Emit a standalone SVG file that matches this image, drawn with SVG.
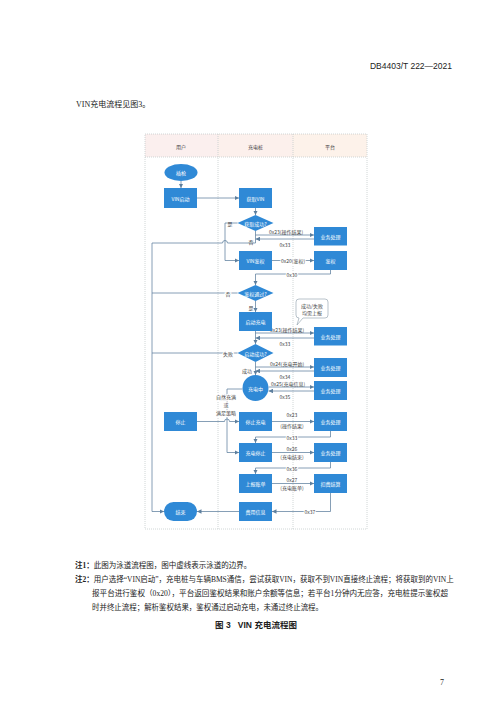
<svg xmlns="http://www.w3.org/2000/svg" width="500" height="707" viewBox="0 0 500 707">
<style>
.pg{font-family:"Liberation Serif","Noto Sans CJK SC",serif;fill:#222}
.hd{font-family:"Liberation Sans","Noto Sans CJK SC",sans-serif;fill:#222}
.n{fill:#2f89d6}
.t{font-family:"Noto Sans CJK SC","Liberation Sans",sans-serif;font-size:5px;fill:#fff;text-anchor:middle;dominant-baseline:central}
.l{font-family:"Noto Sans CJK SC","Liberation Sans",sans-serif;font-size:5px;fill:#444;text-anchor:middle;dominant-baseline:central}
.c{fill:none;stroke:#5d7f9e;stroke-width:0.75}
.fr{fill:none;stroke:#c4cbcc;stroke-width:0.8;stroke-dasharray:1,1}
</style>
<defs>
<marker id="a" viewBox="0 0 6 6" refX="6" refY="3" markerWidth="4.5" markerHeight="4.5" orient="auto" markerUnits="userSpaceOnUse">
<path d="M0,0 L6,3 L0,6 z" fill="#5d7f9e"/>
</marker>
</defs>
<rect width="500" height="707" fill="#fff"/>
<text class="hd" x="452" y="69" font-size="8.5" text-anchor="end">DB4403/T 222—2021</text>
<text class="pg" x="76" y="107" font-size="8">VIN充电流程见图3。</text>

<g id="lanes">
<rect x="145" y="134" width="73" height="23" fill="#fbefee"/>
<rect x="218" y="134" width="75" height="23" fill="#fcf0ec"/>
<rect x="293" y="134" width="74" height="23" fill="#fdf2ea"/>
<rect class="fr" x="145" y="134" width="222" height="395"/>
<line class="fr" x1="145" y1="157" x2="367" y2="157"/>
<line class="fr" x1="218" y1="134" x2="218" y2="529"/>
<line class="fr" x1="293" y1="134" x2="293" y2="529"/>
<text class="l" x="181" y="146" fill="#333">用户</text>
<text class="l" x="255.5" y="146" fill="#333">充电桩</text>
<text class="l" x="330" y="146" fill="#333">平台</text>
</g>

<g id="connectors">
<line class="c" x1="181" y1="181" x2="181" y2="188" marker-end="url(#a)"/>
<line class="c" x1="197" y1="198" x2="239" y2="198" marker-end="url(#a)"/>
<line class="c" x1="255.5" y1="208" x2="255.5" y2="215" marker-end="url(#a)"/>
<path class="c" d="M237.5,223 H225 V260.5 H239" marker-end="url(#a)"/>
<path class="c" d="M255.5,231 V243 H227.5 A2.5,2.5 0 0 0 222.5,243 H152 V511.5 H164" marker-end="url(#a)"/>
<line class="c" x1="255.5" y1="235" x2="314" y2="235" marker-end="url(#a)"/>
<line class="c" x1="314" y1="239" x2="255.5" y2="239" marker-end="url(#a)"/>
<line class="c" x1="272" y1="260.5" x2="314" y2="260.5" marker-end="url(#a)"/>
<path class="c" d="M330.5,270 V274 H255.5 V285" marker-end="url(#a)"/>
<line class="c" x1="237.5" y1="293" x2="152" y2="293"/>
<line class="c" x1="255.5" y1="301" x2="255.5" y2="312" marker-end="url(#a)"/>
<line class="c" x1="255.5" y1="331" x2="255.5" y2="344" marker-end="url(#a)"/>
<line class="c" x1="255.5" y1="333" x2="314" y2="333" marker-end="url(#a)"/>
<line class="c" x1="314" y1="338" x2="255.5" y2="338" marker-end="url(#a)"/>
<line class="c" x1="237.5" y1="353" x2="152" y2="353"/>
<line class="c" x1="255.5" y1="362" x2="255.5" y2="375" marker-end="url(#a)"/>
<line class="c" x1="255.5" y1="367" x2="314" y2="367" marker-end="url(#a)"/>
<line class="c" x1="314" y1="371" x2="255.5" y2="371" marker-end="url(#a)"/>
<line class="c" x1="268.5" y1="387" x2="314" y2="387" marker-end="url(#a)"/>
<line class="c" x1="314" y1="391" x2="268.5" y2="391" marker-end="url(#a)"/>
<path class="c" d="M242.5,389 H227 V452.5 H239" marker-end="url(#a)"/>
<path class="c" d="M197,421.5 H224.5 A2.5,2.5 0 0 1 229.5,421.5 H239" marker-end="url(#a)"/>
<line class="c" x1="272" y1="421.5" x2="314" y2="421.5" marker-end="url(#a)"/>
<path class="c" d="M330.5,431 V437 H255.5 V443" marker-end="url(#a)"/>
<line class="c" x1="272" y1="452.5" x2="314" y2="452.5" marker-end="url(#a)"/>
<path class="c" d="M330.5,462 V468 H255.5 V474" marker-end="url(#a)"/>
<line class="c" x1="272" y1="483.5" x2="314" y2="483.5" marker-end="url(#a)"/>
<path class="c" d="M330.5,493 V511.5 H272" marker-end="url(#a)"/>
<line class="c" x1="239" y1="511.5" x2="197" y2="511.5" marker-end="url(#a)"/>
</g>

<g id="labels">
<text class="l" x="230" y="223">是</text>
<text class="l" x="251" y="241">否</text>
<text class="l" x="286" y="231.5">0x23(操作结果)</text>
<text class="l" x="285" y="244.5">0x33</text>
<text class="l" x="293" y="260.5" style="paint-order:stroke" stroke="#fff" stroke-width="2">0x20(鉴权)</text>
<text class="l" x="292" y="274" style="paint-order:stroke" stroke="#fff" stroke-width="2">0x30</text>
<text class="l" x="228" y="293" style="paint-order:stroke" stroke="#fff" stroke-width="2">否</text>
<text class="l" x="251" y="307">是</text>
<text class="l" x="287" y="329.5">0x23(操作结果)</text>
<text class="l" x="285" y="343">0x33</text>
<text class="l" x="228" y="353" style="paint-order:stroke" stroke="#fff" stroke-width="2">失败</text>
<text class="l" x="247" y="370">成功</text>
<text class="l" x="287" y="363.5">0x24(充电开始)</text>
<text class="l" x="285" y="376">0x34</text>
<text class="l" x="288" y="383.5">0x25(充电信息)</text>
<text class="l" x="285" y="396.5">0x35</text>
<g style="paint-order:stroke" stroke="#fff" stroke-width="2">
<text class="l" x="226" y="396">自然充满</text>
<text class="l" x="226" y="404">或</text>
<text class="l" x="226" y="412">满足策略</text>
</g>
<text class="l" x="292" y="414">0x23</text>
<text class="l" x="292" y="425">(操作结果)</text>
<text class="l" x="292" y="437" style="paint-order:stroke" stroke="#fff" stroke-width="2">0x33</text>
<text class="l" x="292" y="448">0x26</text>
<text class="l" x="292" y="456">(充电结束)</text>
<text class="l" x="292" y="468" style="paint-order:stroke" stroke="#fff" stroke-width="2">0x36</text>
<text class="l" x="292" y="479.5">0x27</text>
<text class="l" x="292" y="487.5">(充电账单)</text>
<text class="l" x="310" y="511.5" style="paint-order:stroke" stroke="#fff" stroke-width="2">0x37</text>
</g>

<g id="n-chaqiang"><ellipse class="n" cx="181" cy="172.5" rx="16.5" ry="8.5"/><text class="t" x="181" y="172.5">插枪</text></g>
<g id="n-vinqidong"><rect class="n" x="164" y="188" width="33" height="20"/><text class="t" x="180.5" y="198">VIN启动</text></g>
<g id="n-huoquvin"><rect class="n" x="239" y="188" width="33" height="20"/><text class="t" x="255.5" y="198">获取VIN</text></g>
<g id="n-huoquok"><polygon class="n" points="255.5,215 273.5,223 255.5,231 237.5,223"/><text class="t" x="255.5" y="223">获取成功?</text></g>
<g id="n-yewu1"><rect class="n" x="314" y="227" width="33" height="18.5"/><text class="t" x="330.5" y="236">业务处理</text></g>
<g id="n-vinjianquan"><rect class="n" x="239" y="251" width="33" height="19"/><text class="t" x="255.5" y="260.5">VIN鉴权</text></g>
<g id="n-jianquan"><rect class="n" x="314" y="251" width="33" height="19"/><text class="t" x="330.5" y="260.5">鉴权</text></g>
<g id="n-jqtongguo"><polygon class="n" points="255.5,285 273.5,293 255.5,301 237.5,293"/><text class="t" x="255.5" y="293">鉴权通过?</text></g>
<g id="n-callout"><path d="M299,299 H325 Q328,299 328,302 V315 Q328,318 325,318 H303 L297,325 L299,318 Q296,318 296,315 V302 Q296,299 299,299 Z" fill="#fff" stroke="#8a9aa8" stroke-width="0.6"/><text class="l" x="312" y="305">成功/失败</text><text class="l" x="312" y="312.5">均需上报</text></g>
<g id="n-qidong"><rect class="n" x="239" y="312" width="33" height="19"/><text class="t" x="255.5" y="321.5">启动充电</text></g>
<g id="n-yewu2"><rect class="n" x="314" y="327" width="33" height="18.5"/><text class="t" x="330.5" y="336">业务处理</text></g>
<g id="n-qdok"><polygon class="n" points="255.5,344 273.5,353 255.5,362 237.5,353"/><text class="t" x="255.5" y="353">启动成功?</text></g>
<g id="n-yewu3"><rect class="n" x="314" y="358" width="33" height="19"/><text class="t" x="330.5" y="367.5">业务处理</text></g>
<g id="n-chongdianzhong"><circle class="n" cx="255.5" cy="388" r="13"/><text class="t" x="255.5" y="388">充电中</text></g>
<g id="n-yewu4"><rect class="n" x="314" y="381" width="33" height="19"/><text class="t" x="330.5" y="390.5">业务处理</text></g>
<g id="n-tingzhi"><rect class="n" x="164" y="412" width="33" height="19"/><text class="t" x="180.5" y="421.5">停止</text></g>
<g id="n-tingzhichongdian"><rect class="n" x="239" y="412" width="33" height="19"/><text class="t" x="255.5" y="421.5">停止充电</text></g>
<g id="n-yewu5"><rect class="n" x="314" y="412" width="33" height="19"/><text class="t" x="330.5" y="421.5">业务处理</text></g>
<g id="n-chongdiantingzhi"><rect class="n" x="239" y="443" width="33" height="19"/><text class="t" x="255.5" y="452.5">充电停止</text></g>
<g id="n-yewu6"><rect class="n" x="314" y="443" width="33" height="19"/><text class="t" x="330.5" y="452.5">业务处理</text></g>
<g id="n-shangbao"><rect class="n" x="239" y="474" width="33" height="19"/><text class="t" x="255.5" y="483.5">上报账单</text></g>
<g id="n-koufei"><rect class="n" x="314" y="474" width="33" height="19"/><text class="t" x="330.5" y="483.5">扣费结算</text></g>
<g id="n-feiyong"><rect class="n" x="239" y="502" width="33" height="19"/><text class="t" x="255.5" y="511.5">费用信息</text></g>
<g id="n-jieshu"><rect class="n" x="164" y="502" width="33" height="19" rx="9.5"/><text class="t" x="180.5" y="511.5">结束</text></g>

<g id="notes">
<text class="pg" x="75" y="568" font-size="7.5"><tspan font-weight="bold">注1：</tspan>此图为泳道流程图，图中虚线表示泳道的边界。</text>
<text class="pg" x="75" y="582" font-size="7.5"><tspan font-weight="bold">注2：</tspan><tspan textLength="360" lengthAdjust="spacingAndGlyphs">用户选择“VIN启动”，充电桩与车辆BMS通信，尝试获取VIN，获取不到VIN直接终止流程；将获取到的VIN上</tspan></text>
<text class="pg" x="92" y="596" font-size="7.5" textLength="356" lengthAdjust="spacingAndGlyphs">报平台进行鉴权（0x20），平台返回鉴权结果和账户余额等信息；若平台1分钟内无应答，充电桩提示鉴权超</text>
<text class="pg" x="92" y="610" font-size="7.5" textLength="231" lengthAdjust="spacingAndGlyphs">时并终止流程；解析鉴权结果，鉴权通过启动充电，未通过终止流程。</text>
<text class="hd" x="215" y="628" font-size="8.5" font-weight="bold" style="white-space:pre" textLength="82" lengthAdjust="spacing">图 3   VIN 充电流程图</text>
<text class="pg" x="440" y="685" font-size="8">7</text>
</g>
</svg>
